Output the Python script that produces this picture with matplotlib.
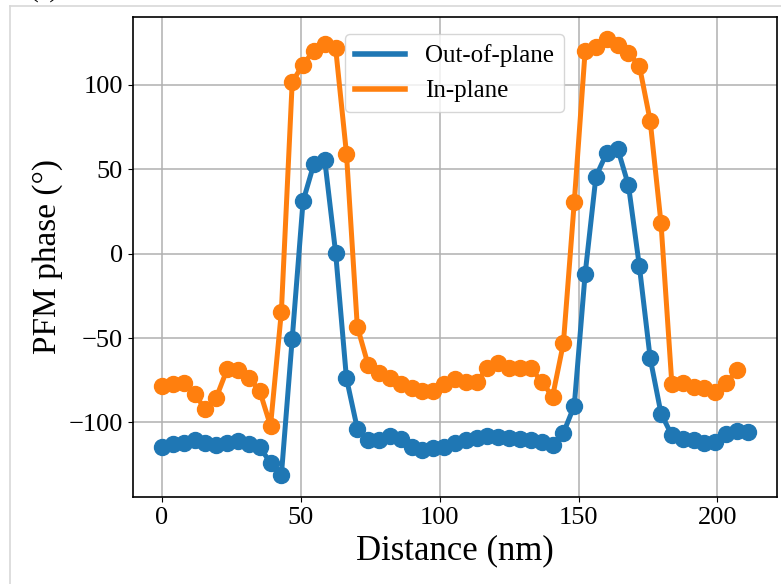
import numpy as np
import matplotlib
matplotlib.use('Agg')
import matplotlib.pyplot as plt
from matplotlib.lines import Line2D

plt.rcParams['font.family'] = ['Liberation Serif', 'DejaVu Serif']
plt.rcParams['mathtext.fontset'] = 'stix'

step = 3.906  # nm per sample

out_of_plane = [-114.8, -112.8, -111.9, -110.3, -111.9, -113.2, -111.9, -110.9, -112.8, -114.8,
                -123.7, -131.2, -50.3, 31.1, 53.2, 55.4, 0.6, -73.8, -103.6, -110.3,
                -110.3, -107.9, -109.5, -114.8, -116.2, -115.4, -114.5, -111.9, -110.5, -109.2,
                -108.2, -108.6, -109.2, -109.6, -110.5, -111.5, -113.1, -106.2, -90.1, -12.2,
                45.7, 59.8, 62.2, 40.4, -7.3, -61.9, -94.7, -107.6, -109.6, -110.5,
                -111.9, -111.5, -106.6, -105.2, -105.6]

in_plane = [-78.3, -77.3, -76.7, -83.3, -92.1, -85.2, -68.5, -68.9, -73.4, -81.3,
            -102.0, -34.3, 101.8, 112.0, 120.3, 124.4, 121.9, 59.3, -43.2, -65.9,
            -70.4, -73.4, -77.3, -79.3, -81.3, -81.3, -77.0, -74.0, -75.8, -75.8,
            -67.9, -64.9, -67.9, -67.5, -67.9, -75.8, -84.7, -53.0, 30.4, 119.8,
            122.3, 127.3, 123.7, 118.8, 111.4, 78.7, 17.9, -77.4, -76.8, -78.7,
            -79.7, -81.8, -76.8, -68.9]

labels = ['Out-of-plane', 'In-plane']
colors = ['#1f77b4', '#ff7f0e']

x_oop = np.arange(len(out_of_plane)) * step
x_ip = np.arange(len(in_plane)) * step

fig = plt.figure(figsize=(7.81, 5.84), dpi=100)
ax = fig.add_axes([0.170, 0.149, 0.825, 0.822])

ax.plot(x_oop, out_of_plane, '-o', color=colors[0], lw=3.6, ms=11.5)
ax.plot(x_ip, in_plane, '-o', color=colors[1], lw=3.6, ms=11.5)

ax.set_xlabel('Distance (nm)', fontsize=25)
ax.set_ylabel('PFM phase (°)', fontsize=24)
ax.tick_params(labelsize=19)
ax.set_xticks([0, 50, 100, 150, 200])
ax.set_yticks([-100, -50, 0, 50, 100])
ax.grid(True, color='#b0b0b0', lw=1.1)
for s in ax.spines.values():
    s.set_linewidth(1.2)

# legend shows lines only
handles = [Line2D([], [], color=c, lw=4) for c in colors]
ax.legend(handles, labels, loc='upper center', fontsize=18, borderaxespad=0.7)

# crop frame and cut-off panel label of the source image
fig.add_artist(Line2D([9.5 / 781, 9.5 / 781], [0, 1 - 5.5 / 584], color='#d8d8d8', lw=1.2))
fig.add_artist(Line2D([9.5 / 781, 1], [1 - 5.5 / 584, 1 - 5.5 / 584], color='#d8d8d8', lw=1.2))
fig.text(30 / 781, 1 - 3 / 584, '(a)', fontsize=19, va='bottom', ha='left')

fig.savefig('out.png', dpi=100)
